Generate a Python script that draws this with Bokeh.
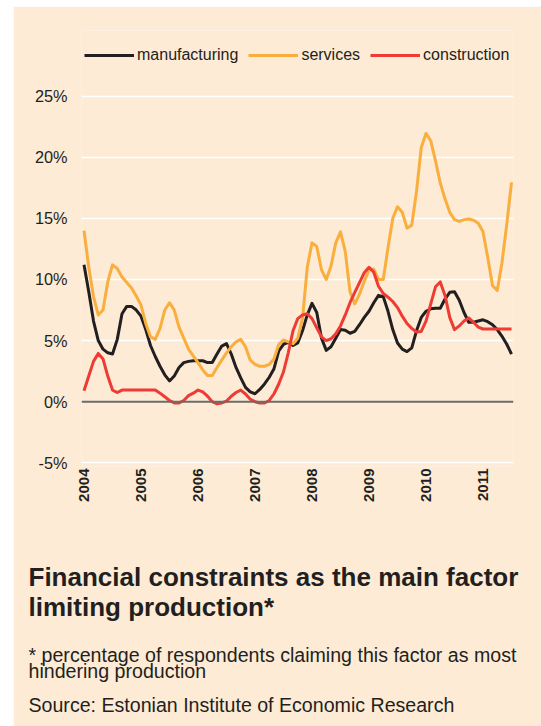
from bokeh.plotting import figure
from bokeh.models import (Range1d, FixedTicker, PrintfTickFormatter, Span, Title,
                          Legend, LegendItem, Spacer)
from bokeh.layouts import column, row
from bokeh.embed import file_html
from bokeh.resources import INLINE
import math

# ---- data: monthly, Jan 2004 .. Jul 2011 (percent of respondents) ----
start_year = 2004
manufacturing = [11.2, 9.0, 6.6, 5.0, 4.3, 4.0, 3.9, 5.1, 7.2, 7.8, 7.8, 7.5,
                 7.0, 5.9, 4.6, 3.7, 2.9, 2.2, 1.7, 2.1, 2.8, 3.2, 3.3, 3.35,
                 3.35, 3.35, 3.2, 3.2, 3.9, 4.55, 4.75, 3.9, 2.8, 1.95, 1.17, 0.8,
                 0.65, 1.0, 1.45, 2.0, 2.7, 4.15, 4.7, 4.85, 4.6, 4.8, 5.8, 7.1,
                 8.05, 7.3, 5.2, 4.2, 4.5, 5.2, 5.9, 5.85, 5.6, 5.75, 6.3, 6.9,
                 7.4, 8.1, 8.7, 8.6, 7.4, 5.9, 4.8, 4.3, 4.1, 4.4, 5.8, 6.9,
                 7.4, 7.6, 7.65, 7.65, 8.4, 8.95, 9.0, 8.3, 7.3, 6.5, 6.5, 6.6,
                 6.7, 6.55, 6.3, 5.9, 5.35, 4.7, 3.9]
services = [14.0, 11.0, 8.6, 7.1, 7.5, 9.8, 11.2, 10.9, 10.2, 9.75, 9.3, 8.65,
            7.9, 6.4, 5.3, 5.1, 6.0, 7.5, 8.1, 7.5, 6.1, 5.2, 4.3, 3.75,
            3.2, 2.6, 2.15, 2.15, 2.8, 3.4, 4.0, 4.5, 4.9, 5.1, 4.5, 3.4,
            3.05, 2.9, 2.9, 3.05, 3.5, 4.7, 5.05, 4.9, 4.75, 5.2, 6.8, 11.0,
            13.0, 12.7, 10.8, 10.0, 11.1, 13.0, 13.9, 12.3, 9.0, 8.0, 8.8, 9.85,
            10.8, 10.85, 10.0, 10.0, 12.6, 15.0, 15.95, 15.5, 14.2, 14.45, 17.2, 20.8,
            21.95, 21.35, 19.7, 17.9, 16.6, 15.5, 14.9, 14.75, 14.9, 14.95, 14.85, 14.6,
            13.9, 11.8, 9.5, 9.1, 11.4, 14.5, 17.95]
construction = [0.9, 2.1, 3.3, 3.95, 3.5, 2.1, 0.95, 0.75, 0.95, 0.95, 0.95, 0.95,
                0.95, 0.95, 0.95, 0.95, 0.7, 0.4, 0.1, -0.1, -0.1, 0.1, 0.5, 0.7,
                0.95, 0.8, 0.45, 0.0, -0.18, -0.1, 0.05, 0.45, 0.75, 0.95, 0.63, 0.2,
                0.0, -0.11, -0.11, 0.1, 0.65, 1.45, 2.45, 4.0, 5.8, 6.8, 7.1, 7.2,
                6.8, 6.05, 5.3, 5.0, 5.15, 5.55, 6.2, 7.1, 8.1, 8.95, 9.75, 10.55,
                11.0, 10.6, 9.45, 8.85, 8.55, 8.2, 7.7, 7.0, 6.4, 6.0, 5.7, 5.75,
                6.6, 8.0, 9.4, 9.8, 8.7, 6.9, 5.9, 6.2, 6.6, 6.85, 6.5, 6.1,
                5.95, 5.95, 5.95, 5.95, 5.95, 5.95, 5.95]
series_names = ["manufacturing", "services", "construction"]
years = [2004, 2005, 2006, 2007, 2008, 2009, 2010, 2011]
y_ticks = [-5, 0, 5, 10, 15, 20, 25]

title_lines = ["Financial constraints as the main factor", "limiting production*"]
note_lines = ["* percentage of respondents claiming this factor as most",
              "hindering production"]
source_text = "Source: Estonian Institute of Economic Research"

x = [start_year + i / 12 for i in range(len(manufacturing))]

BG = "#FDEBD5"
TXT = "#231F20"
colors = ["#231F20", "#F9AE3E", "#EE3B33"]
FONT = "Liberation Sans"

p = figure(width=528, height=720, output_backend="svg", toolbar_location=None,
           x_range=Range1d(2003.956, 2011.535), y_range=Range1d(-5.303, 30.376),
           min_border_left=68, min_border_right=28, min_border_top=24,
           min_border_bottom=260)
p.background_fill_color = BG
p.border_fill_color = BG
p.outline_line_color = None

p.xgrid.grid_line_color = None
p.ygrid.grid_line_color = "white"
p.ygrid.grid_line_width = 1.6
p.ygrid.ticker = FixedTicker(ticks=y_ticks)

p.yaxis.ticker = FixedTicker(ticks=y_ticks)
p.yaxis.formatter = PrintfTickFormatter(format="%d%%")
p.yaxis.axis_line_color = None
p.yaxis.major_tick_line_color = None
p.yaxis.minor_tick_line_color = None
p.yaxis.major_label_text_font = FONT
p.yaxis.major_label_text_font_size = "16.3px"
p.yaxis.major_label_text_color = TXT
p.yaxis.major_label_standoff = 8

p.xaxis.ticker = FixedTicker(ticks=years)
p.xaxis.formatter = PrintfTickFormatter(format="%d")
p.xaxis.axis_line_color = None
p.xaxis.major_tick_line_color = None
p.xaxis.minor_tick_line_color = None
p.xaxis.major_label_orientation = math.pi / 2
p.xaxis.major_label_text_font = FONT
p.xaxis.major_label_text_font_size = "15px"
p.xaxis.major_label_text_font_style = "bold"
p.xaxis.major_label_text_color = TXT
p.xaxis.major_label_standoff = -4

p.add_layout(Span(location=0, dimension="width", line_color="#6E6A64", line_width=2))

renderers = []
for vals, col in zip([manufacturing, services, construction], colors):
    r = p.line(x, vals, line_color=col, line_width=3, line_join="round")
    renderers.append(r)

legend = Legend(items=[LegendItem(label=n, renderers=[r]) for n, r in zip(series_names, renderers)],
                orientation="horizontal", location=(3, 402),
                glyph_width=50, glyph_height=16, label_height=16, label_standoff=3,
                spacing=10, padding=0, margin=0,
                label_text_font=FONT, label_text_font_size="16px", label_text_color=TXT,
                background_fill_alpha=0, border_line_color=None)
p.add_layout(legend, "center")

# gap between the year labels and the caption block
p.add_layout(Title(text=" ", align="left", standoff=37, text_font=FONT,
                   text_font_size="1px", text_color=BG), "below")
p.add_layout(Title(text="\n".join(title_lines), align="left", offset=-53, standoff=30,
                   text_font=FONT, text_font_size="26px", text_font_style="bold",
                   text_color=TXT, text_line_height=1.0), "below")
p.add_layout(Title(text="\n".join(note_lines), align="left", offset=-53, standoff=10,
                   text_font=FONT, text_font_size="19.6px", text_font_style="normal",
                   text_color=TXT, text_line_height=0.76), "below")
p.add_layout(Title(text=source_text, align="left", offset=-53, standoff=9,
                   text_font=FONT, text_font_size="19.6px", text_font_style="normal",
                   text_color=TXT), "below")

layout = column(Spacer(height=6), row(Spacer(width=13), p))

open("out.html", "w").write(file_html(layout, INLINE))
